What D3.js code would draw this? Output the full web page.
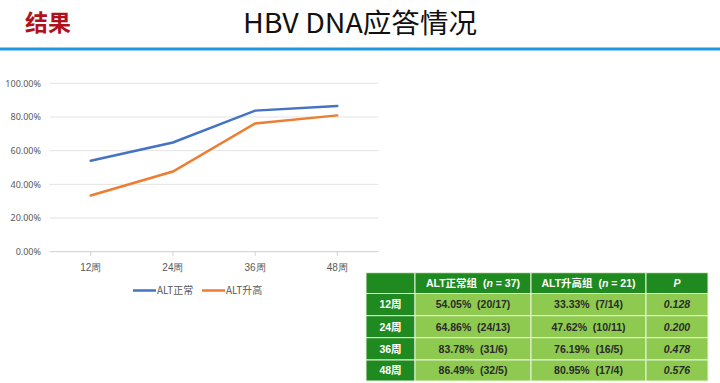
<!DOCTYPE html>
<html><head><meta charset="utf-8">
<script src="https://cdn.jsdelivr.net/npm/d3@7"></script>
<style>
html,body{margin:0;padding:0;background:#fff;}
svg{display:block;font-family:"Noto Sans CJK SC","Noto Sans",sans-serif;}
</style></head>
<body>
<svg id="c" width="720" height="383"></svg>
<script>
const categories = ["12周","24周","36周","48周"];
const seriesNames = ["ALT正常","ALT升高"];
const altNormal = [54.05, 64.86, 83.78, 86.49];
const altHigh = [33.33, 47.62, 76.19, 80.95];
const yTicks = [0,20,40,60,80,100];
const tableHeader = ["", "ALT正常组 (n = 37)", "ALT升高组 (n = 21)", "P"];
const tableRows = ["12周","24周","36周","48周"];
const tableNormal = ["54.05%  (20/17)","64.86%  (24/13)","83.78%  (31/6)","86.49%  (32/5)"];
const tableHigh = ["33.33%  (7/14)","47.62%  (10/11)","76.19%  (16/5)","80.95%  (17/4)"];
const tableP = ["0.128","0.200","0.478","0.576"];
const colors = ["#4472c4","#ed7d31"];

const svg = d3.select("#c");

// header
svg.append("text").attr("x",25).attr("y",31).attr("fill","#b0121b")
  .attr("font-size",23).attr("font-weight","bold").text("结果");
svg.append("text").attr("x",243).attr("y",33).attr("fill","#111")
  .attr("font-size",27).attr("textLength",234).attr("lengthAdjust","spacingAndGlyphs")
  .text("HBV DNA应答情况");
svg.append("rect").attr("x",0).attr("y",47.5).attr("width",720).attr("height",3).attr("fill","#1f98e4");

// chart
const x = d3.scaleBand().domain(categories).range([49.6,378.4]);
const y = d3.scaleLinear().domain([0,100]).range([251.7,83.3]);

const grid = svg.append("g");
grid.selectAll("line").data(yTicks).join("line")
  .attr("x1",49.6).attr("x2",378.4).attr("y1",d=>y(d)).attr("y2",d=>y(d))
  .attr("stroke",d=>d===0?"#cfcfcf":"#e3e3e3").attr("stroke-width",1);

const yAxis = svg.append("g").attr("transform","translate(41,0)")
  .call(d3.axisLeft(y).tickValues(yTicks).tickSize(0).tickPadding(0).tickFormat(d=>d.toFixed(2)+"%"));
yAxis.select(".domain").remove();
yAxis.selectAll("text").attr("font-size",9).attr("fill","#595959").attr("font-family","'Noto Sans',sans-serif");

const xAxis = svg.append("g").attr("transform","translate(0,251.7)")
  .call(d3.axisBottom(x).tickSize(4).tickPadding(8));
xAxis.select(".domain").remove();
xAxis.selectAll("line").attr("stroke","#cfcfcf");
xAxis.selectAll("text").attr("font-size",10).attr("fill","#595959");

const line = d3.line().x((d,i)=>x(categories[i])+x.bandwidth()/2).y(d=>y(d));
[altNormal, altHigh].forEach((s,i)=>{
  svg.append("path").datum(s).attr("d",line).attr("fill","none")
    .attr("stroke",colors[i]).attr("stroke-width",2.5).attr("stroke-linecap","round");
});

// legend
const legX = [133, 202];
seriesNames.forEach((n,i)=>{
  svg.append("line").attr("x1",legX[i]).attr("x2",legX[i]+23).attr("y1",290.5).attr("y2",290.5)
    .attr("stroke",colors[i]).attr("stroke-width",2.5);
  svg.append("text").attr("x",legX[i]+24).attr("y",294).attr("font-size",10).attr("fill","#595959").text(n);
});

// table
const colX = [366,415,531,646,708];
const rowY = [272.7,293.5,315.7,337.7,360,381];
const dark = "#1f8a1f", light = "#8fca50";
const tg = svg.append("g");
for(let r=0;r<5;r++){
  for(let c=0;c<4;c++){
    const isDark = r===0 || c===0;
    tg.append("rect").attr("x",colX[c]).attr("y",rowY[r]).attr("width",colX[c+1]-colX[c]).attr("height",rowY[r+1]-rowY[r])
      .attr("fill",isDark?dark:light).attr("stroke","#e8f4dc").attr("stroke-width",1);
    let txt;
    if(r===0) txt = tableHeader[c];
    else if(c===0) txt = tableRows[r-1];
    else if(c===1) txt = tableNormal[r-1];
    else if(c===2) txt = tableHigh[r-1];
    else txt = tableP[r-1];
    if(!txt) continue;
    const t = tg.append("text").attr("x",(colX[c]+colX[c+1])/2).attr("y",(rowY[r]+rowY[r+1])/2+3.8)
      .attr("text-anchor","middle").attr("font-size",10.5).attr("font-weight","bold")
      .attr("fill",isDark?"#fff":"#2a2a2a").attr("font-family","'Liberation Sans','Noto Sans CJK SC',sans-serif")
      .attr("xml:space","preserve").style("white-space","pre");
    if(r===0 && (c===1||c===2)){
      const m = txt.match(/^(.*) \(n = (\d+)\)$/);
      t.append("tspan").text(m[1]+"  (");
      t.append("tspan").attr("font-style","italic").text("n");
      t.append("tspan").text(" = "+m[2]+")");
    } else {
      if(c===3) t.attr("font-style","italic");
      t.text(txt);
    }
  }
}
</script>
</body></html>
